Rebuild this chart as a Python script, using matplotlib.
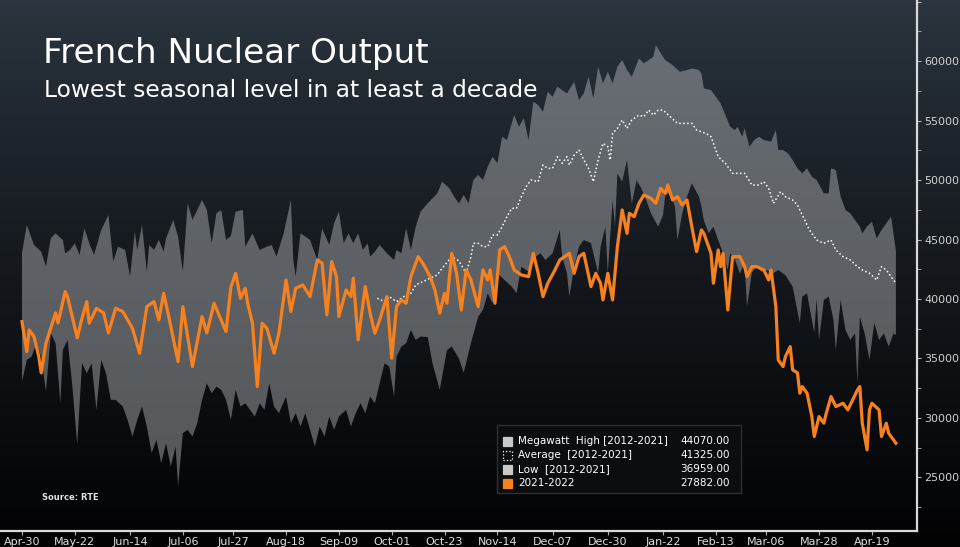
import numpy as np
import pandas as pd
import matplotlib
matplotlib.use('Agg')
import matplotlib.pyplot as plt
import matplotlib.dates as mdates
from matplotlib.patches import Rectangle
from matplotlib.ticker import MultipleLocator, FuncFormatter

plt.rcParams['font.family'] = ['DejaVu Sans']

# day offsets from 2021-04-30 and values (MW)
base = pd.Timestamp('2021-04-30')

high_days = [0, 2, 5, 8, 10, 12, 14, 17, 18, 20, 22, 24, 26, 28, 30, 33, 36, 38, 40, 43,
             45, 47, 48, 50, 52, 53, 55, 57, 59, 60, 63, 65, 67, 69, 71, 73, 75, 77, 79, 81,
             83, 85, 87, 89, 92, 93, 96, 99, 102, 104, 106, 109, 112, 113, 114, 116, 120, 123, 125, 128,
             130, 132, 134, 136, 138, 140, 142, 144, 145, 147, 149, 152, 155, 156, 158, 160, 162, 164, 166, 169,
             171, 173, 175, 178, 180, 182, 184, 186, 188, 190, 192, 194, 196, 198, 200, 202, 205, 207, 209, 211,
             213, 215, 217, 219, 221, 223, 225, 227, 230, 232, 234, 236, 238, 240, 242, 244, 246, 248, 250, 252,
             254, 257, 259, 261, 263, 264, 267, 268, 271, 274, 277, 279, 282, 283, 284, 287, 289, 291, 293, 295,
             297, 298, 300, 301, 303, 305, 307, 309, 312, 314, 315, 317, 319, 321, 323, 325, 327, 329, 331, 334,
             336, 337, 339, 341, 343, 345, 347, 349, 350, 352, 354, 356, 358, 360, 362, 364]
high_vals = [43870, 46220, 44540, 43980, 42720, 45100, 45520, 44960, 43840, 44120, 44680, 43700, 45940, 44680, 43700, 45800, 47060, 43140, 44400, 44120,
             41880, 45660, 44120, 46220, 42300, 44540, 44120, 44960, 43980, 45100, 46640, 45240, 42300, 48040, 46640, 47480, 48320, 47480, 44680, 47200,
             47480, 44960, 45300, 47340, 47480, 44400, 45520, 44120, 44400, 44540, 43560, 45520, 48320, 43280, 41880, 45520, 44960, 43280, 45940, 44540,
             46360, 47340, 44680, 45520, 44680, 45520, 44120, 44680, 43560, 43980, 44540, 43840, 43280, 44120, 43840, 45940, 44120, 46080, 47340, 48040,
             48460, 48880, 49860, 49300, 48600, 48040, 48740, 48040, 50000, 50420, 50000, 51120, 51960, 51400, 53640, 53360, 55460, 54480, 55180, 53360,
             56580, 56300, 55740, 57420, 57000, 57840, 57560, 57280, 58260, 56720, 57280, 58680, 56860, 59520, 58120, 59100, 58120, 59520, 60080, 59240,
             58680, 60220, 59800, 60080, 60360, 61340, 60360, 60080, 59660, 59100, 59240, 59380, 59240, 58960, 57700, 57560, 57000, 56440, 55460, 54480,
             54200, 54480, 53640, 54340, 52800, 53360, 53640, 53360, 53220, 54200, 52520, 52520, 52240, 51680, 50980, 50560, 50980, 50280, 50000, 48880,
             48880, 50980, 50840, 48600, 47480, 47200, 46640, 46080, 45520, 46080, 46500, 45100, 45800, 46360, 46920, 44070]

low_days = [0, 2, 4, 6, 8, 10, 12, 14, 16, 17, 19, 21, 23, 25, 27, 29, 31, 33, 35, 37,
            39, 42, 44, 46, 48, 50, 52, 54, 56, 58, 60, 62, 64, 65, 67, 69, 71, 73, 75, 77,
            79, 81, 83, 85, 87, 89, 91, 93, 95, 97, 99, 101, 103, 105, 107, 110, 112, 114, 116, 118,
            120, 122, 124, 126, 128, 130, 132, 135, 137, 139, 141, 143, 145, 147, 149, 151, 153, 155, 156, 158,
            160, 162, 164, 166, 169, 171, 174, 177, 179, 182, 184, 187, 190, 192, 194, 196, 198, 201, 204, 206,
            208, 211, 214, 216, 218, 221, 224, 225, 227, 228, 230, 232, 234, 237, 240, 241, 243, 244, 246, 247,
            248, 250, 252, 254, 256, 258, 260, 262, 265, 267, 268, 270, 272, 273, 275, 277, 279, 282, 283, 284,
            286, 288, 290, 292, 294, 295, 297, 299, 301, 302, 304, 306, 308, 310, 313, 315, 318, 321, 324, 325,
            327, 330, 331, 332, 334, 336, 338, 339, 341, 343, 345, 347, 348, 349, 351, 353, 355, 357, 359, 361,
            363, 364]
low_vals = [33030, 34880, 35160, 36280, 35160, 32220, 37120, 36280, 31240, 35720, 36560, 32640, 27740, 34600, 33760, 34600, 30680, 34880, 33760, 31520,
            31520, 30960, 29840, 28440, 29840, 30960, 29280, 27040, 28160, 26200, 27880, 25910, 27600, 24230, 28720, 29000, 28440, 29560, 31520, 32920,
            32080, 32640, 32360, 31520, 29840, 32360, 30960, 31240, 30680, 30120, 31240, 30680, 32920, 30960, 30400, 31800, 29560, 30400, 29280, 30400,
            29000, 27600, 29280, 28440, 30120, 29000, 30120, 30680, 29280, 30400, 31240, 30400, 31800, 31240, 32920, 34600, 34320, 31800, 35160, 36000,
            36280, 37400, 36560, 36840, 36800, 34600, 32360, 35700, 36000, 35000, 33800, 36300, 38500, 39080, 40480, 39640, 42160, 41600, 41040, 40480,
            42720, 42300, 43560, 43840, 43280, 43840, 45800, 43560, 42160, 40200, 42720, 44400, 44960, 44700, 42160, 44400, 46080, 42160, 48320, 46080,
            50560, 49860, 51680, 48000, 50000, 49300, 48320, 47200, 46080, 47060, 48800, 48900, 47760, 44960, 47200, 48600, 49720, 48600, 47800, 46640,
            45520, 46080, 44960, 43840, 42440, 43840, 43300, 42160, 43000, 39360, 42200, 42720, 42300, 42440, 42160, 42440, 42000, 41040, 37960, 40200,
            40480, 37150, 40000, 36560, 39920, 40200, 38240, 35720, 39920, 37400, 36560, 37100, 32920, 38520, 37100, 34880, 38000, 36560, 37100, 36000,
            37100, 36959]

avg_days = [148, 151, 153, 156, 159, 162, 164, 167, 170, 173, 175, 179, 182, 185, 187, 188, 190, 192, 194, 196,
            198, 200, 202, 204, 206, 208, 210, 212, 215, 217, 219, 221, 223, 225, 227, 228, 230, 232, 234, 236,
            238, 240, 242, 244, 245, 246, 248, 250, 252, 254, 257, 259, 261, 263, 265, 267, 270, 273, 275, 279,
            281, 285, 287, 290, 293, 296, 298, 301, 304, 307, 309, 311, 313, 316, 318, 321, 323, 326, 328, 331,
            334, 337, 339, 342, 345, 348, 350, 353, 356, 358, 360, 362, 364]
avg_vals = [40060, 39780, 40200, 39780, 40200, 40480, 41180, 41460, 41740, 42020, 42580, 43560, 43200, 42160, 43560, 44680, 44680, 44400, 44400, 45380,
            45380, 46080, 46920, 47620, 47620, 48600, 49440, 50000, 49860, 51260, 50980, 50980, 51960, 51400, 51960, 51260, 52100, 52520, 51700, 50980,
            49860, 51700, 53080, 52800, 51680, 53920, 54340, 55040, 54340, 55040, 55460, 55320, 55880, 55460, 55880, 55880, 55320, 54760, 54760, 54760,
            54200, 53900, 53640, 51960, 51400, 50560, 50560, 50560, 49580, 49580, 49860, 49300, 48040, 49020, 48600, 48320, 47900, 46640, 45800, 44960,
            44680, 44960, 44120, 43560, 43280, 42720, 42440, 42160, 41600, 42720, 42440, 41880, 41325]

out_days = [0, 2, 3, 5, 7, 8, 10, 14, 15, 18, 19, 23, 25, 27, 28, 31, 34, 36, 39, 42,
            46, 49, 52, 55, 57, 59, 61, 65, 67, 71, 75, 77, 80, 85, 87, 89, 91, 93, 94, 96,
            98, 100, 102, 105, 107, 110, 112, 114, 117, 120, 123, 125, 127, 129, 131, 132, 135, 137, 138, 140,
            143, 145, 147, 149, 152, 154, 156, 158, 160, 162, 165, 167, 170, 172, 174, 176, 177, 179, 181, 183,
            185, 187, 190, 192, 194, 195, 197, 199, 201, 203, 205, 208, 211, 213, 215, 217, 219, 222, 224, 226,
            228, 230, 232, 234, 237, 239, 241, 242, 244, 246, 248, 250, 252, 253, 255, 257, 259, 262, 264, 266,
            268, 269, 271, 273, 275, 277, 279, 281, 283, 284, 287, 288, 290, 291, 292, 294, 296, 299, 301, 302,
            304, 306, 309, 311, 312, 314, 315, 317, 318, 320, 321, 323, 324, 325, 327, 329, 330, 332, 334, 335,
            337, 339, 342, 344, 346, 348, 349, 350, 352, 353, 354, 357, 358, 360, 361, 363, 364]
out_vals = [38100, 35580, 37400, 36840, 35160, 33790, 36310, 38830, 37990, 40620, 40170, 36730, 38390, 39780, 37960, 39220, 38830, 37150, 39220, 38940,
            37540, 35440, 39360, 39780, 38240, 40480, 38660, 34740, 39360, 34320, 38520, 37150, 39640, 37260, 41000, 42160, 40060, 40900, 39640, 37960,
            32640, 37960, 37540, 35440, 37120, 41600, 38940, 40900, 41180, 40200, 43280, 43000, 38660, 43140, 41880, 38520, 40760, 40200, 41740, 36560,
            41040, 38800, 37120, 38240, 40200, 35020, 39360, 39920, 39640, 41880, 43560, 43000, 41880, 40760, 38800, 40480, 39640, 43840, 42160, 39080,
            42440, 41600, 39360, 42440, 41600, 42440, 39640, 44120, 44400, 43560, 42440, 42020, 41880, 43840, 42160, 40200, 41320, 42440, 43280, 43560,
            43840, 42160, 43560, 43840, 41040, 42160, 41320, 39920, 42160, 39920, 44400, 47480, 45520, 47200, 46920, 48040, 48740, 48460, 48040, 49300,
            48880, 49580, 48320, 48600, 47900, 48320, 46080, 43980, 45800, 45520, 43840, 41320, 44120, 42720, 43840, 39080, 43560, 43560, 42720, 41880,
            42720, 42720, 42440, 41600, 42440, 39360, 34880, 34320, 35160, 36000, 34040, 33790, 32080, 32640, 32080, 30120, 28440, 30120, 29560, 30400,
            31800, 30960, 31240, 30680, 31520, 32360, 32640, 29560, 27320, 30680, 31240, 30680, 28440, 29560, 28720, 28160, 27882]

tick_dates = ['2021-04-30', '2021-05-22', '2021-06-14', '2021-07-06', '2021-07-27', '2021-08-18',
              '2021-09-09', '2021-10-01', '2021-10-23', '2021-11-14', '2021-12-07', '2021-12-30',
              '2022-01-22', '2022-02-13', '2022-03-06', '2022-03-28', '2022-04-19']

legend_labels = ['Megawatt  High [2012-2021]', 'Average  [2012-2021]', 'Low  [2012-2021]', '2021-2022']
legend_values = ['44070.00', '41325.00', '36959.00', '27882.00']


def to_dates(days):
    return base + pd.to_timedelta(np.asarray(days), unit='D')


W, H = 960, 547
fig = plt.figure(figsize=(W / 100, H / 100), dpi=100)

# background gradient (slate at top to black at bottom)
bg = fig.add_axes([0, 0, 1, 1])
bg.axis('off')
t = np.linspace(0, 1, 256) ** 0.8
top = np.array([44, 54, 64]) / 255
bot = np.array([2, 2, 3]) / 255
grad = (top[None, :] * (1 - t[:, None]) + bot[None, :] * t[:, None])[:, None, :]
bg.imshow(grad, aspect='auto', extent=[0, 1, 0, 1], zorder=0)

ax = fig.add_axes([0, 16 / H, 917 / W, 531 / H])
ax.patch.set_alpha(0)

# high/low band as one polygon
hx = mdates.date2num(to_dates(high_days))
lx = mdates.date2num(to_dates(low_days))
ax.fill(np.r_[hx, lx[::-1]], np.r_[high_vals, low_vals[::-1]],
        facecolor='#c4c7ca', alpha=0.42, edgecolor='none', zorder=1)

ax.plot(to_dates(avg_days), avg_vals, color='white', lw=1.1, ls=(0, (1, 1.6)), zorder=3)
ax.plot(to_dates(out_days), out_vals, color='#f7801f', lw=2.3, zorder=4, solid_joinstyle='round')

ax.set_xlim(base - pd.Timedelta(days=9.16), base + pd.Timedelta(days=372.8))
ax.set_ylim(20500, 65130)

for s in ['left', 'top']:
    ax.spines[s].set_visible(False)
for s in ['right', 'bottom']:
    ax.spines[s].set_color('#d8d8d8')
    ax.spines[s].set_linewidth(1.6)

ax.yaxis.tick_right()
ax.yaxis.set_major_locator(MultipleLocator(5000))
ax.yaxis.set_minor_locator(MultipleLocator(2500))
ax.yaxis.set_major_formatter(FuncFormatter(lambda v, p: f'{int(v)}' if 25000 <= v <= 60000 else ''))
ax.tick_params(axis='y', which='both', direction='out', length=3, color='#b0b0b0',
               labelcolor='#d0d0d0', labelsize=8, pad=2)

ticks = pd.to_datetime(tick_dates)
ax.set_xticks(ticks)
ax.set_xticklabels([d.strftime('%b-%d') for d in ticks])
ax.tick_params(axis='x', direction='out', length=3, color='#b0b0b0',
               labelcolor='#e0e0e0', labelsize=8, pad=1)

# title and notes
fig.text(43 / W, 1 - 63 / H, 'French Nuclear Output', color='white', fontsize=24.6,
         ha='left', va='baseline')
fig.text(44 / W, 1 - 97 / H, 'Lowest seasonal level in at least a decade', color='white',
         fontsize=16.8, ha='left', va='baseline')
fig.text(42 / W, 1 - 497 / H, 'Source: RTE', color='#e0e0e0', fontsize=6,
         fontweight='bold', ha='left', va='center')

# legend box
fig.patches.append(Rectangle((497 / W, 1 - 493 / H), 244 / W, 68 / H, transform=fig.transFigure,
                             facecolor='#0b0d0f', edgecolor='#2c3034', lw=1, zorder=5))
row_y = [441, 455, 469, 483]
sq_face = ['#c8c8c8', 'none', '#c8c8c8', '#f7801f']
sq_edge = ['#c8c8c8', 'white', '#c8c8c8', '#f7801f']
sq_ls = ['-', ':', '-', '-']
for i in range(4):
    yy = 1 - row_y[i] / H
    fig.patches.append(Rectangle((503 / W, yy - 4.5 / H), 9 / W, 9 / H, transform=fig.transFigure,
                                 facecolor=sq_face[i], edgecolor=sq_edge[i], ls=sq_ls[i],
                                 lw=0.9, zorder=6))
    fig.text(518 / W, yy, legend_labels[i], color='white', fontsize=7.5, ha='left', va='center', zorder=6)
    fig.text(730 / W, yy, legend_values[i], color='white', fontsize=7.5, ha='right', va='center', zorder=6)

fig.savefig('out.png', dpi=100, facecolor='black')
